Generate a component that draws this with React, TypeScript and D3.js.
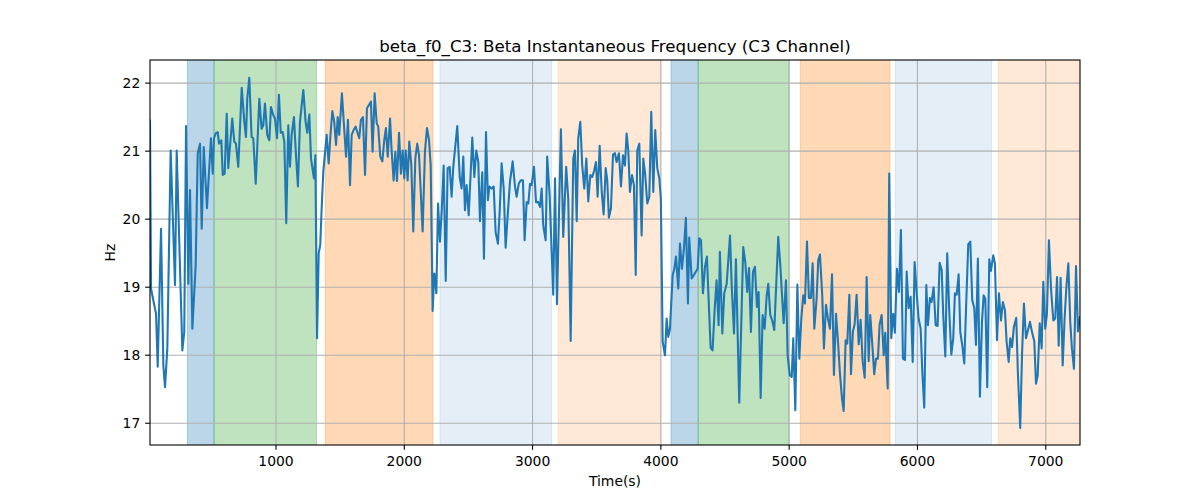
import React from "react";
import * as d3 from "d3";

const times: number[] = [
  18, 26, 31, 65, 78, 104, 122, 135, 153, 179, 213, 226, 270, 285, 299, 317, 330, 348, 374, 390, 408, 421, 437, 462, 493, 507, 517, 530, 546, 556, 574, 585, 600, 616, 628, 659, 675, 688, 706, 733, 753,
  766, 776, 792, 810, 823, 842, 870, 888, 901, 914, 932, 948, 961, 979, 992, 1008, 1023, 1037, 1052, 1065, 1080, 1096, 1109, 1122, 1140, 1156, 1171, 1187, 1213, 1231, 1244, 1260, 1273, 1286, 1296, 1307, 1320, 1333, 1345, 1356, 1369, 1384, 1395, 1411, 1423, 1439, 1454, 1468, 1481, 1493,
  1514, 1530, 1546, 1561, 1577, 1590, 1605, 1621, 1637, 1649, 1662, 1678, 1694, 1709, 1725, 1740, 1753, 1769, 1785, 1797, 1813, 1829, 1844, 1857, 1871, 1889, 1902, 1917, 1930, 1943, 1959, 1974, 1987, 2000, 2011, 2026, 2039, 2055, 2070, 2086, 2101, 2115, 2143, 2161, 2177, 2193, 2206, 2221, 2234,
  2242, 2250, 2263, 2278, 2292, 2307, 2323, 2338, 2354, 2369, 2382, 2413, 2432, 2447, 2460, 2473, 2486, 2502, 2517, 2530, 2546, 2561, 2577, 2590, 2608, 2621, 2637, 2652, 2663, 2681, 2697, 2712, 2730, 2744, 2759, 2775, 2790, 2806, 2824, 2845, 2863, 2876, 2892, 2907, 2925, 2938, 2954, 2967, 2980,
  2993, 3011, 3027, 3044, 3058, 3071, 3083, 3102, 3114, 3133, 3161, 3175, 3190, 3221, 3239, 3262, 3278, 3297, 3317, 3330, 3344, 3356, 3372, 3387, 3403, 3419, 3434, 3450, 3465, 3481, 3494, 3507, 3523, 3539, 3554, 3570, 3582, 3595, 3611, 3627, 3642, 3655, 3673, 3689, 3705, 3720,
  3733, 3746, 3759, 3775, 3790, 3804, 3816, 3832, 3850, 3863, 3878, 3894, 3910, 3925, 3941, 3956, 3972, 3988, 4000, 4014, 4032, 4045, 4058, 4071, 4092, 4105, 4118, 4136, 4149, 4164, 4180, 4195, 4211, 4221, 4240, 4258, 4273, 4287, 4299, 4313, 4328, 4344, 4359, 4375, 4388, 4403, 4419, 4434, 4450, 4460,
  4479, 4494, 4513, 4539, 4552, 4570, 4585, 4611, 4642, 4658, 4673, 4687, 4702, 4718, 4733, 4749, 4762, 4778, 4793, 4809, 4825, 4837, 4853, 4868, 4884, 4915, 4931, 4957, 4975, 4988, 5004, 5020, 5032, 5048, 5064, 5079, 5095, 5110, 5123, 5139, 5154, 5170, 5183, 5196,
  5214, 5227, 5240, 5258, 5271, 5287, 5302, 5318, 5334, 5349, 5365, 5380, 5396, 5412, 5425, 5440, 5453, 5469, 5482, 5497, 5510, 5526, 5542, 5557, 5573, 5589, 5604, 5620, 5632, 5648, 5663, 5677, 5692, 5705, 5721, 5737, 5749, 5768, 5780, 5796, 5811, 5824, 5840, 5856, 5871, 5887, 5903, 5916, 5931,
  5947, 5963, 5978, 5994, 6009, 6025, 6038, 6053, 6069, 6082, 6097, 6110, 6126, 6142, 6157, 6173, 6189, 6201, 6217, 6232, 6248, 6264, 6279, 6292, 6306, 6321, 6334, 6349, 6365, 6380, 6396, 6412, 6427, 6443, 6456, 6471, 6487, 6503, 6516, 6529, 6544, 6560, 6573, 6591, 6604, 6620, 6635, 6651, 6666, 6682,
  6695, 6711, 6723, 6737, 6752, 6770, 6783, 6801, 6815, 6830, 6846, 6862, 6877, 6893, 6911, 6924, 6937, 6953, 6968, 6981, 6996, 7009, 7025, 7041, 7059, 7074, 7088, 7101, 7116, 7132, 7147, 7160, 7176, 7191, 7204, 7220, 7236, 7251, 7267,
];

const freqHz: number[] = [
  21.45, 18.98, 18.93, 18.61, 17.83, 19.86, 17.85, 17.53, 18.10, 21.01, 19.03, 21.01, 18.07, 18.34, 21.37, 19.05, 20.43, 18.39, 19.32, 20.97, 21.11, 19.86, 21.06, 20.16, 21.19, 20.67, 21.19, 21.26, 21.28, 21.11, 21.16, 20.65, 20.67, 21.55, 20.75, 21.48, 21.14, 21.11, 20.77, 21.93, 21.43,
  21.21, 21.77, 22.08, 21.21, 21.19, 20.52, 21.77, 21.33, 21.38, 21.70, 21.24, 21.16, 21.65, 21.53, 21.48, 21.19, 21.83, 21.27, 21.28, 21.14, 19.94, 21.38, 20.77, 21.24, 21.50, 20.94, 20.48, 21.43, 21.90, 21.43, 21.27, 21.54, 20.89, 20.72, 20.60, 20.94, 18.25, 19.50, 19.62, 20.16, 20.70, 21.01, 21.24, 20.82, 21.19, 21.59, 21.43, 21.09, 21.50, 21.24,
  21.85, 21.38, 20.92, 21.46, 20.50, 21.24, 21.31, 21.36, 21.26, 21.19, 21.46, 21.50, 20.65, 21.63, 21.68, 21.73, 20.99, 21.85, 21.41, 21.36, 20.92, 20.85, 21.16, 21.34, 20.92, 21.48, 20.99, 20.57, 20.99, 20.56, 21.27, 20.67, 21.01, 20.60, 21.01, 20.57, 21.14, 20.79, 19.82, 20.89, 21.11, 20.94, 19.82, 20.99, 21.34, 21.16, 20.79, 18.65, 19.20,
  19.13, 18.91, 20.23, 19.67, 20.13, 20.79, 19.09, 20.75, 20.77, 20.33, 20.77, 21.37, 20.62, 20.45, 20.92, 20.13, 20.50, 20.06, 20.65, 21.20, 20.62, 21.01, 20.84, 19.97, 20.69, 19.42, 21.28, 20.28, 20.48, 20.45, 20.48, 19.81, 19.64, 20.13, 20.82, 20.45, 19.58, 20.06, 20.55, 20.85, 20.48, 20.33, 20.52, 20.57, 20.57, 19.69, 20.25, 20.23, 20.52,
  20.50, 20.77, 20.25, 20.25, 20.18, 20.45, 19.91, 19.69, 20.92, 20.35, 18.89, 20.60, 18.75, 21.32, 19.74, 20.77, 20.30, 18.21, 20.89, 21.01, 19.97, 21.19, 21.43, 20.79, 20.45, 20.89, 20.26, 20.65, 20.62, 20.72, 20.84, 20.33, 21.08, 20.40, 20.07, 20.75, 20.57, 20.02, 20.16, 20.95, 20.97, 20.84, 20.97, 20.48, 20.94, 20.79,
  21.26, 21.01, 20.40, 20.65, 20.50, 19.18, 21.01, 21.11, 19.76, 20.89, 20.65, 20.23, 20.33, 21.58, 20.40, 21.31, 20.75, 20.60, 20.30, 18.20, 18.00, 18.54, 18.27, 18.39, 19.18, 19.27, 19.45, 18.98, 19.64, 19.27, 19.57, 20.02, 18.76, 19.73, 19.13, 19.18, 19.23, 19.27, 19.72, 19.69, 18.91, 19.30, 19.45, 18.69, 18.11, 18.07, 18.66, 19.10, 18.44, 19.52,
  18.32, 18.91, 19.05, 19.76, 19.03, 18.32, 19.41, 17.30, 19.59, 19.37, 18.93, 19.28, 18.34, 19.23, 19.30, 18.71, 18.93, 17.37, 18.59, 18.39, 18.88, 19.05, 18.59, 18.51, 18.37, 19.74, 19.32, 18.47, 19.10, 18.00, 17.71, 17.68, 18.25, 17.19, 19.04, 17.95, 18.54, 18.88, 18.76, 19.67, 18.84, 18.84, 19.35, 18.39,
  18.83, 19.40, 19.48, 18.88, 18.10, 18.74, 18.54, 18.39, 19.19, 17.71, 18.61, 18.22, 17.73, 17.36, 17.18, 18.22, 18.17, 18.89, 17.72, 18.35, 18.45, 18.89, 18.16, 18.52, 17.91, 17.67, 19.15, 17.91, 18.59, 18.16, 17.72, 17.95, 17.95, 18.45, 18.59, 18.00, 18.33, 17.51, 20.67, 18.25, 18.61, 18.33, 19.27, 18.93, 19.84, 17.95, 17.93, 19.23, 18.69,
  18.86, 17.90, 19.37, 18.91, 18.54, 18.39, 17.75, 17.23, 19.03, 18.44, 18.84, 18.78, 19.00, 18.44, 18.43, 19.36, 19.25, 18.59, 17.98, 19.50, 18.64, 18.01, 18.25, 18.91, 18.89, 19.19, 18.34, 18.15, 17.88, 18.76, 19.63, 19.67, 18.81, 18.69, 18.15, 19.42, 17.39, 18.49, 18.88, 18.83, 17.53, 19.41, 19.24, 19.47, 19.35, 18.22, 18.91, 18.51, 18.78, 18.66,
  18.20, 17.90, 18.25, 18.12, 18.42, 18.55, 17.73, 16.93, 18.00, 18.76, 18.25, 18.37, 18.49, 18.34, 18.20, 17.58, 17.70, 18.47, 18.10, 19.08, 18.39, 18.60, 19.69, 18.98, 18.51, 18.54, 19.15, 18.14, 19.14, 17.85, 18.54, 18.98, 19.35, 18.49, 18.10, 17.80, 19.31, 18.35, 18.56,
];

const bandStarts: number[] = [309, 517, 1384, 2278, 3200, 4079, 4291, 5087, 5827, 6630];
const bandEnds: number[] = [517, 1317, 2224, 3149, 3998, 4291, 4998, 5786, 6578, 7300];
const bandKinds: string[] = ["blue", "green", "orange", "lightblue", "lightorange", "blue", "green", "orange", "lightblue", "lightorange"];

const xTicks: number[] = [1000, 2000, 3000, 4000, 5000, 6000, 7000];
const yTicks: number[] = [17, 18, 19, 20, 21, 22];

const xDomain: [number, number] = [18, 7267];
const yDomain: [number, number] = [16.68, 22.34];

const title = "beta_f0_C3: Beta Instantaneous Frequency (C3 Channel)";
const xLabel = "Time(s)";
const yLabel = "Hz";

const kindStyle: Record<string, { color: string; alpha: number }> = {
  blue: { color: "#1f77b4", alpha: 0.3 },
  green: { color: "#2ca02c", alpha: 0.3 },
  orange: { color: "#ff7f0e", alpha: 0.3 },
  lightblue: { color: "#1f77b4", alpha: 0.12 },
  lightorange: { color: "#ff7f0e", alpha: 0.17 },
};

export default function App() {
  const W = 1200;
  const H = 500;
  const left = 150, right = 1080, top = 60, bottom = 445;
  const x = d3.scaleLinear().domain(xDomain).range([left, right]);
  const y = d3.scaleLinear().domain(yDomain).range([bottom, top]);
  const pts = times.map((t, i) => [t, freqHz[i]] as [number, number]);
  const line = d3.line<[number, number]>().x((d) => x(d[0])).y((d) => y(d[1]));
  const font = "'DejaVu Sans', sans-serif";
  const tickLen = 4.86;

  return (
    <svg width={W} height={H} style={{ position: "absolute", left: 0, top: 0, display: "block", background: "#fff" }}>
      <defs>
        <clipPath id="plotclip">
          <rect x={left} y={top} width={right - left} height={bottom - top} />
        </clipPath>
      </defs>
      <rect x={0} y={0} width={W} height={H} fill="#fff" />
      <g clipPath="url(#plotclip)">
        {bandStarts.map((s, i) => {
          const st = kindStyle[bandKinds[i]];
          const x0 = x(s);
          const x1 = x(bandEnds[i]);
          return (
            <rect key={i} x={x0} y={top - 2} width={x1 - x0} height={bottom - top + 4}
              fill={st.color} fillOpacity={st.alpha} stroke={st.color} strokeOpacity={st.alpha} strokeWidth={1} />
          );
        })}
        {xTicks.map((t) => (
          <line key={"gx" + t} x1={x(t)} x2={x(t)} y1={top} y2={bottom} stroke="#b0b0b0" strokeWidth={1.1} />
        ))}
        {yTicks.map((t) => (
          <line key={"gy" + t} x1={left} x2={right} y1={y(t)} y2={y(t)} stroke="#b0b0b0" strokeWidth={1.1} />
        ))}
        <path d={line(pts) || ""} fill="none" stroke="#1f77b4" strokeWidth={2.08} strokeLinejoin="round" strokeLinecap="square" />
      </g>
      <rect x={left} y={top} width={right - left} height={bottom - top} fill="none" stroke="#000" strokeWidth={1.1} />
      {xTicks.map((t) => (
        <g key={"tx" + t}>
          <line x1={x(t)} x2={x(t)} y1={bottom} y2={bottom + tickLen} stroke="#000" strokeWidth={1.1} />
          <text x={x(t)} y={bottom + tickLen + 4.86 + 11} textAnchor="middle" fontFamily={font} fontSize={13.9} fill="#000">{t}</text>
        </g>
      ))}
      {yTicks.map((t) => (
        <g key={"ty" + t}>
          <line x1={left - tickLen} x2={left} y1={y(t)} y2={y(t)} stroke="#000" strokeWidth={1.1} />
          <text x={left - tickLen - 4.86} y={y(t)} dy="0.35em" textAnchor="end" fontFamily={font} fontSize={13.9} fill="#000">{t}</text>
        </g>
      ))}
      <text x={(left + right) / 2} y={486} textAnchor="middle" fontFamily={font} fontSize={13.9} fill="#000">{xLabel}</text>
      <text transform={`translate(${115},${(top + bottom) / 2}) rotate(-90)`} textAnchor="middle" fontFamily={font} fontSize={13.9} fill="#000">{yLabel}</text>
      <text x={(left + right) / 2} y={52} textAnchor="middle" fontFamily={font} fontSize={16.67} fill="#000">{title}</text>
    </svg>
  );
}
